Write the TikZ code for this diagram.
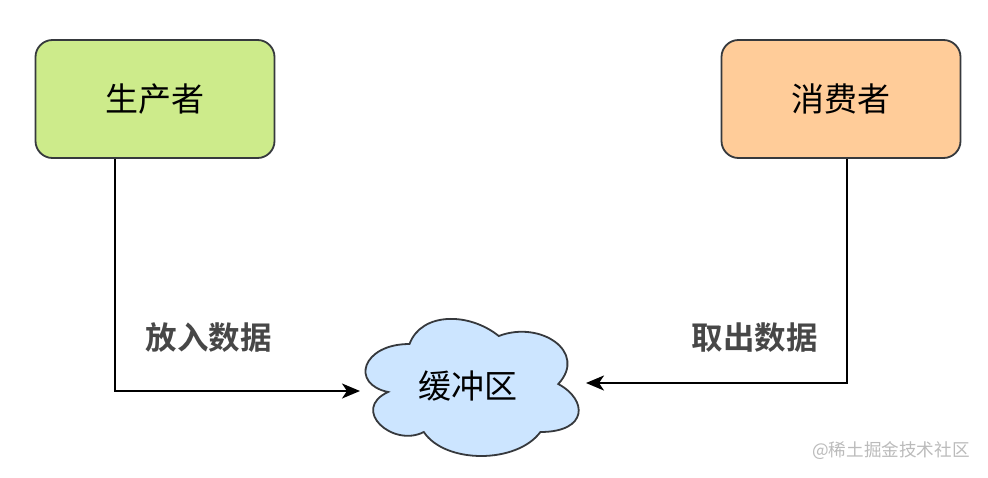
\documentclass[tikz,border=0pt]{standalone}
\usepackage{fontspec}
\setmainfont{Noto Sans CJK SC}
\newfontfamily\cjk{Noto Sans CJK SC}
\newfontfamily\cjkbold{Noto Sans CJK SC Bold}
\usetikzlibrary{arrows.meta}
\definecolor{prodfill}{HTML}{CDEB8B}
\definecolor{consfill}{HTML}{FFCC99}
\definecolor{cloudfill}{HTML}{CCE5FF}
\definecolor{strokec}{HTML}{36393D}
\definecolor{labelc}{HTML}{474747}
\definecolor{markc}{HTML}{BBBBBB}
\tikzset{
  rolebox/.style={draw=strokec, line width=1.8pt, rounded corners=17pt,
    minimum width=239pt, minimum height=118pt, inner sep=0pt,
    font=\cjk\fontsize{33}{33}\selectfont},
  conn/.style={draw=black, line width=2.2pt,
    -{Stealth[length=18pt,width=15pt,inset=5pt]}},
  edgelabel/.style={text=labelc, font=\cjkbold\fontsize{31.5}{31.5}\selectfont, inner sep=0pt},
}
\begin{document}
\begin{tikzpicture}[x=1pt,y=-1pt]
\useasboundingbox[fill=white] (0,0) rectangle (988,477);
% boxes
\node[rolebox, fill=prodfill] (prod) at (155,99) {生产者};
\node[rolebox, fill=consfill] (cons) at (841,99) {消费者};
% cloud
\draw[draw=strokec, line width=1.8pt, fill=cloudfill]
  (409.5,344)
  .. controls (361.9,344) and (350,384) .. (388.08,392)
  .. controls (350,409.6) and (392.84,448) .. (423.78,432)
  .. controls (445.2,464) and (516.6,464) .. (540.4,432)
  .. controls (588,432) and (588,400) .. (558.25,384)
  .. controls (588,352) and (540.4,320) .. (498.75,336)
  .. controls (469,312) and (421.4,312) .. (409.5,344) -- cycle;
\node[font=\cjk\fontsize{33}{33}\selectfont, inner sep=0pt] (buf) at (468,386) {缓冲区};
\coordinate (cloudL) at (360,391);
\coordinate (cloudR) at (586,383);
% connectors
\draw[conn] ([xshift=-40pt]prod.south) |- (cloudL);
\draw[conn] ([xshift=6pt]cons.south) |- (cloudR);
% labels
\node[edgelabel] (put) at (208.5,338) {放入数据};
\node[edgelabel] (take) at (754.5,338) {取出数据};
% watermark
\node[text=markc, font=\cjk\fontsize{17.6}{17.6}\selectfont, inner sep=0pt] (mark) at (891,451) {@稀土掘金技术社区};
\end{tikzpicture}
\end{document}
